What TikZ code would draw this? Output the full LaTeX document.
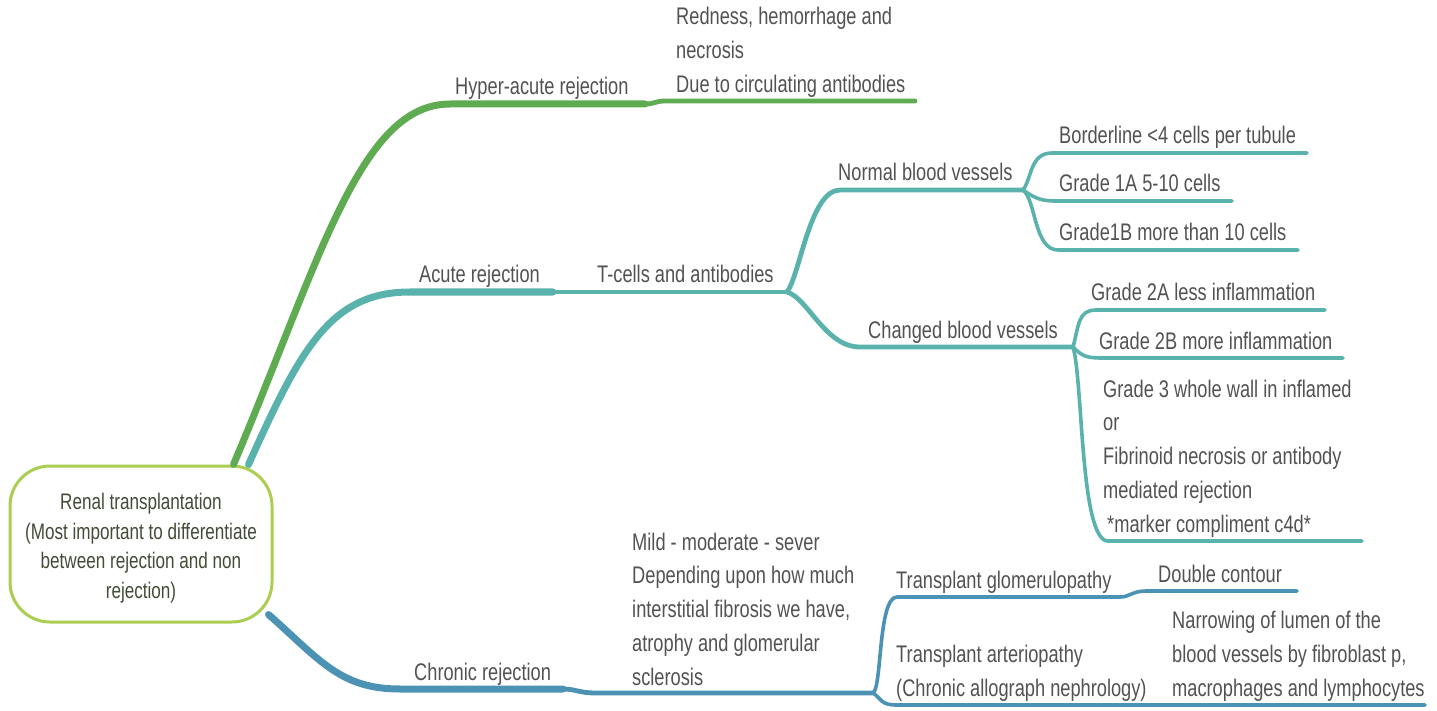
\documentclass[tikz,border=0pt]{standalone}
\usepackage{fontspec}
\setmainfont{Liberation Sans}[FakeStretch=0.76]
\definecolor{cgreen}{RGB}{95,171,82}
\definecolor{cteal}{RGB}{90,178,172}
\definecolor{cblue}{RGB}{75,146,180}
\definecolor{cbox}{RGB}{172,206,80}
\definecolor{txt}{RGB}{82,82,82}
\definecolor{roottxt}{RGB}{66,76,54}
\begin{document}
\begin{tikzpicture}[x=1pt,y=-1pt,
  lbl/.style={inner sep=0pt,anchor=base west,text=txt,font=\fontsize{24}{33.8}\selectfont},
  blk/.style={lbl,anchor=north west,align=left},
  rootbox/.style={draw=cbox,line width=3pt,fill=white,rounded corners=40pt,
    minimum width=262pt,minimum height=156pt,align=center,text=roottxt,
    font=\fontsize{22.5}{29.5}\selectfont},
  lv1/.style={line width=7pt,line cap=round},
  lv2/.style={line width=4.8pt,line cap=round},
  lv3/.style={line width=3.6pt,line cap=round},
  ha/.style={draw=cgreen},
  ac/.style={draw=cteal},
  ch/.style={draw=cblue}]
\useasboundingbox (0,0) rectangle (1437,711);

% central topic
\node[rootbox] (root) at (141,544) {};
\node[inner sep=0pt,align=center,text=roottxt,font=\fontsize{22.5}{29.5}\selectfont]
  (roottext) at (141,548) {Renal transplantation\\(Most important to differentiate\\between rejection and non\\rejection)};

% labels
\node[lbl] (hyper) at (455,95) {Hyper-acute rejection};
\node[blk] (redness) at (676,7) {Redness, hemorrhage and\\necrosis\\Due to circulating antibodies};
\node[lbl] (acute) at (419,283) {Acute rejection};
\node[lbl] (tcells) at (597,283) {T-cells and antibodies};
\node[lbl] (normal) at (838,181) {Normal blood vessels};
\node[lbl] (border) at (1059,144) {Borderline <4 cells per tubule};
\node[lbl] (g1a) at (1059,192) {Grade 1A 5-10 cells};
\node[lbl] (g1b) at (1059,241) {Grade1B more than 10 cells};
\node[lbl] (changed) at (868,338) {Changed blood vessels};
\node[lbl] (g2a) at (1091,301) {Grade 2A less inflammation};
\node[lbl] (g2b) at (1099,349) {Grade 2B more inflammation};
\node[blk] (g3) at (1103,379.5) {Grade 3 whole wall in inflamed\\or\\Fibrinoid necrosis or antibody\\mediated rejection\\\hspace{4pt}*marker compliment c4d*};
\node[lbl] (chronic) at (414,680) {Chronic rejection};
\node[blk] (mild) at (632,532.5) {Mild - moderate - sever\\Depending upon how much\\interstitial fibrosis we have,\\atrophy and glomerular\\sclerosis};
\node[lbl] (glom) at (896,588) {Transplant glomerulopathy};
\node[lbl] (double) at (1158,582) {Double contour};
\node[blk] (arterio) at (896,645) {Transplant arteriopathy\\(Chronic allograph nephrology)};
\node[blk] (narrow) at (1172,611) {Narrowing of lumen of the\\blood vessels by fibroblast p,\\macrophages and lymphocytes};

% junctions and line ends
\coordinate (rg) at ([xshift=-40pt]root.north east);
\coordinate (rt) at ([xshift=-25pt]root.north east);
\coordinate (rb) at ([shift={(-5,-9)}]root.south east);
\coordinate (jha) at (645,104);
\coordinate (jac) at (553,292);
\coordinate (jtc) at (787,292);
\coordinate (jnb) at (1023,190);
\coordinate (jcb) at (1073,347);
\coordinate (jcr) at (563,689);
\coordinate (jml) at (873,693);
\coordinate (jgl) at (1120,597);

% hyper-acute branch
\draw[ha,lv1] (rg) .. controls (320,260) and (360,104) .. (450,104) -- (jha);
\draw[ha,lv2] (jha) .. controls (655,104) and (655,101) .. (665,101) -- (915,101);

% acute branch
\draw[ac,lv1] (rt) .. controls (300,350) and (330,292) .. (410,292) -- (jac);
\draw[ac,lv2] (jac) -- (jtc);
\draw[ac,lv2] (jtc) .. controls (800,275) and (810,190) .. (840,190) -- (jnb);
\draw[ac,lv2] (jtc) .. controls (808,298) and (825,347) .. (860,347) -- (jcb);
\draw[ac,lv3] (jnb) .. controls (1032,178) and (1030,153) .. (1052,153) -- (1307,153);
\draw[ac,lv3] (jnb) .. controls (1035,198) and (1040,201) .. (1056,201) -- (1232,201);
\draw[ac,lv3] (jnb) .. controls (1036,200) and (1034,250) .. (1058,250) -- (1298,250);
\draw[ac,lv3] (jcb) .. controls (1079,325) and (1078,310) .. (1096,310) -- (1325,310);
\draw[ac,lv3] (jcb) .. controls (1082,356) and (1086,358) .. (1102,358) -- (1343,358);
\draw[ac,lv3] (jcb) .. controls (1083,380) and (1080,541) .. (1108,541) -- (1362,541);

% chronic branch
\draw[ch,lv1] (rb) .. controls (320,660) and (340,689) .. (400,689) -- (jcr);
\draw[ch,lv2] (jcr) .. controls (575,689) and (580,693) .. (595,693) -- (jml);
\draw[ch,lv3] (jml) .. controls (882,688) and (878,597) .. (897,597) -- (jgl);
\draw[ch,lv3] (jgl) .. controls (1130,597) and (1132,591) .. (1146,591) -- (1297,591);
\draw[ch,lv3] (jml) .. controls (882,699) and (880,705) .. (897,705) -- (1425,705);
\end{tikzpicture}
\end{document}
